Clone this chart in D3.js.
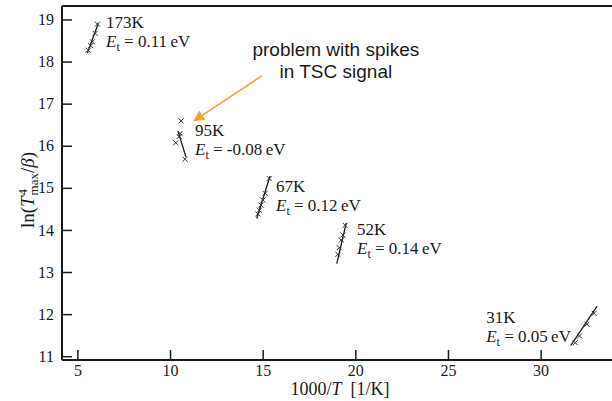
<!DOCTYPE html>
<html><head><meta charset="utf-8">
<script src="https://cdn.jsdelivr.net/npm/d3@7"></script>
<style>body{margin:0;background:#fff}svg{display:block}</style>
</head><body><svg id="c" width="612" height="401"></svg>
<script>
// ---- data ----
const groups = ["173K", "95K", "67K", "52K", "31K"];
const energies = ["0.11", "-0.08", "0.12", "0.14", "0.05"];
const pointsX = [
  [6.08, 5.96, 5.81, 5.72, 5.59],
  [10.60, 10.54, 10.49, 10.31, 10.81],
  [15.35, 15.13, 15.01, 14.91, 14.82, 14.74],
  [19.45, 19.33, 19.24, 19.13, 19.06],
  [32.89, 32.50, 32.10, 31.87]
];
const pointsY = [
  [18.89, 18.67, 18.47, 18.38, 18.27],
  [16.59, 16.29, 16.22, 16.07, 15.68],
  [15.22, 14.87, 14.71, 14.59, 14.47, 14.38],
  [14.11, 13.88, 13.76, 13.58, 13.42],
  [12.02, 11.76, 11.48, 11.32]
];
const fitX = [[5.54, 6.13], [10.43, 10.86], [14.68, 15.40], [19.00, 19.51], [31.63, 33.05]];
const fitY = [[18.20, 18.91], [16.35, 15.73], [14.27, 15.28], [13.20, 14.17], [11.26, 12.19]];
const labelX = [6.55, 11.35, 15.72, 20.09, 27.06];
const labelY = [18.79, 16.23, 14.90, 13.88, 11.79];
const xTicks = [5, 10, 15, 20, 25, 30];
const yTicks = [11, 12, 13, 14, 15, 16, 17, 18, 19];
const noteLines = ["problem with spikes", "in TSC signal"];
const noteAnchor = [18.95, 18.13];
const arrowFrom = [14.95, 17.66];
const arrowTo = [11.35, 16.61];

// ---- drawing ----
const svg = d3.select("#c");
const L = 62, R = 614, T = 6, B = 360;
const x = d3.scaleLinear().domain([4.17, 33.96]).range([L, R]);
const y = d3.scaleLinear().domain([10.91, 19.32]).range([B, T]);
const serif = "'Liberation Serif','Times New Roman',serif";
const ink = "#1a1a1a";

// frame
svg.append("line").attr("x1", L).attr("x2", L).attr("y1", T).attr("y2", B)
  .attr("stroke", ink).attr("stroke-width", 2);
svg.append("line").attr("x1", L).attr("x2", R).attr("y1", B).attr("y2", B)
  .attr("stroke", ink).attr("stroke-width", 2);
svg.append("line").attr("x1", L).attr("x2", R).attr("y1", T).attr("y2", T)
  .attr("stroke", ink).attr("stroke-width", 2);

// axes (ticks inward)
const xAxis = d3.axisBottom(x).tickValues(xTicks).tickSize(-10).tickPadding(13).tickFormat(d3.format("d"));
const gx = svg.append("g").attr("transform", `translate(0,${B})`).call(xAxis);
gx.select(".domain").remove();
gx.selectAll(".tick line").attr("stroke", ink).attr("stroke-width", 1.5);
gx.selectAll(".tick text").attr("font-family", serif).attr("font-size", 16).attr("fill", ink).attr("dy", "0.2em");

const yAxis = d3.axisLeft(y).tickValues(yTicks).tickSize(-10).tickPadding(8).tickFormat(d3.format("d"));
const gy = svg.append("g").attr("transform", `translate(${L},0)`).call(yAxis);
gy.select(".domain").remove();
gy.selectAll(".tick line").attr("stroke", ink).attr("stroke-width", 1.5);
gy.selectAll(".tick text").attr("font-family", serif).attr("font-size", 16).attr("fill", ink);

// axis titles
const xt = svg.append("text").attr("x", 340).attr("y", 395).attr("text-anchor", "middle")
  .attr("font-family", serif).attr("font-size", 18).attr("fill", ink);
xt.append("tspan").text("1000/");
xt.append("tspan").attr("font-style", "italic").text("T");
xt.append("tspan").text("\u2002[1/K]");

const yt = svg.append("text").attr("transform", "translate(34,190) rotate(-90)")
  .attr("text-anchor", "middle").attr("font-family", serif).attr("font-size", 19).attr("fill", ink);
yt.append("tspan").text("ln(");
yt.append("tspan").attr("font-style", "italic").text("T");
yt.append("tspan").attr("font-size", 13).attr("dx", 1).attr("dy", -7).text("4");
yt.append("tspan").attr("font-size", 13).attr("dx", -6.5).attr("dy", 11).text("max");
yt.append("tspan").attr("dy", -4).text("/");
yt.append("tspan").attr("font-style", "italic").text("β");
yt.append("tspan").text(")");

// fit lines, points, labels
groups.forEach((g, i) => {
  svg.append("line")
    .attr("x1", x(fitX[i][0])).attr("y1", y(fitY[i][0]))
    .attr("x2", x(fitX[i][1])).attr("y2", y(fitY[i][1]))
    .attr("stroke", ink).attr("stroke-width", 1.3);
  const pts = pointsX[i].map((v, j) => [v, pointsY[i][j]]);
  svg.append("g").selectAll("path").data(pts).join("path")
    .attr("d", d => {
      const cx = x(d[0]), cy = y(d[1]), s = 2.5;
      return `M${cx - s},${cy - s}L${cx + s},${cy + s}M${cx - s},${cy + s}L${cx + s},${cy - s}`;
    })
    .attr("stroke", "#333").attr("stroke-width", 1);
  const lx = x(labelX[i]), ly = y(labelY[i]);
  svg.append("text").attr("x", lx).attr("y", ly)
    .attr("font-family", serif).attr("font-size", 17).attr("fill", ink).text(g);
  const et = svg.append("text").attr("x", lx).attr("y", ly + 19)
    .attr("font-family", serif).attr("font-size", 17).attr("fill", ink);
  et.append("tspan").attr("font-style", "italic").text("E");
  et.append("tspan").attr("font-size", 12).attr("dy", 4).text("t");
  et.append("tspan").attr("dy", -4).text(" = " + energies[i] + "\u2009eV");
});

// annotation
const defs = svg.append("defs");
defs.append("marker").attr("id", "ah").attr("viewBox", "0 0 10 10").attr("refX", 8).attr("refY", 5)
  .attr("markerWidth", 7).attr("markerHeight", 7).attr("orient", "auto-start-reverse")
  .append("path").attr("d", "M0,0L10,5L0,10Z").attr("fill", "#f3a33c");
svg.append("line")
  .attr("x1", x(arrowFrom[0])).attr("y1", y(arrowFrom[1]))
  .attr("x2", x(arrowTo[0])).attr("y2", y(arrowTo[1]))
  .attr("stroke", "#f3a33c").attr("stroke-width", 1.6).attr("marker-end", "url(#ah)");
const note = svg.append("text").attr("text-anchor", "middle")
  .attr("font-family", "'Liberation Sans',Arial,sans-serif").attr("font-size", 19).attr("fill", "#1a1a1a");
noteLines.forEach((t, k) => {
  note.append("tspan").attr("x", x(noteAnchor[0])).attr("y", y(noteAnchor[1]) + k * 22).text(t);
});
</script>
</body></html>
